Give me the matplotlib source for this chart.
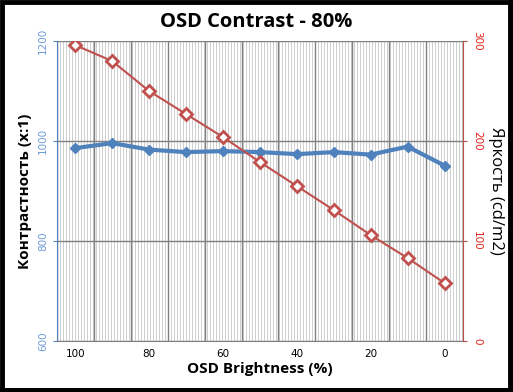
import numpy as np
import matplotlib
matplotlib.use("Agg")
import matplotlib.pyplot as plt
from matplotlib.patches import Rectangle

plt.rcParams['font.family'] = ['DejaVu Sans']

# данные
brightness = [100, 90, 80, 70, 60, 50, 40, 30, 20, 10, 0]
contrast = [986, 996, 983, 978, 980, 978, 974, 978, 973, 989, 951]
luminance = [296, 280, 250, 227, 204, 179, 155, 131, 106, 83, 58]

blue = '#4F81BD'
red = '#C0504D'
x = np.arange(len(brightness))

fig = plt.figure(figsize=(5.13, 3.92), dpi=100)
ax = fig.add_axes([0.111, 0.130, 0.7915, 0.765])
ax2 = ax.twinx()

# штриховка фона
ax.vlines(np.arange(-0.5, 10.5, 0.0813), 600, 1200, color='#c8c8c8', lw=0.6, zorder=0)

ax.set_xlim(-0.5, 10.5)
ax.set_ylim(600, 1200)
ax2.set_ylim(0, 300)

ax.set_xticks(x[::2])
ax.set_xticklabels([str(b) for b in brightness[::2]], fontsize=7.5)
ax.set_xticks(np.arange(-0.5, 11, 1), minor=True)
ax.grid(True, which='minor', axis='x', color='#808080', lw=1, zorder=1)
ax.set_yticks([600, 800, 1000, 1200])
ax.grid(True, which='major', axis='y', color='#808080', lw=1, zorder=1)
ax.tick_params(axis='x', which='both', length=0, pad=6)
ax.tick_params(axis='y', colors=blue, labelsize=7.5, length=3, labelcolor='#6d9bd8')
for t in ax.get_yticklabels():
    t.set_rotation(90)
    t.set_va('center')

ax2.set_yticks([0, 100, 200, 300])
ax2.tick_params(axis='y', colors=red, labelsize=7.5, length=3, labelcolor='#e0201a')
for t in ax2.get_yticklabels():
    t.set_rotation(-90)
    t.set_va('center')

for s in ['top']:
    ax.spines[s].set_visible(False)
    ax2.spines[s].set_visible(False)
ax.spines['left'].set_color(blue)
ax2.spines['left'].set_visible(False)
ax2.spines['right'].set_color(red)
ax.spines['right'].set_visible(False)
ax.spines['bottom'].set_color('#808080')
ax2.spines['bottom'].set_visible(False)

ax.plot(x, contrast, color=blue, lw=3, marker='D', ms=5.5, zorder=3)
ax2.plot(x, luminance, color=red, lw=1.5, marker='D', ms=6.5, mfc='white',
         mec=red, mew=2, zorder=3)

fig.text(0.5, 0.944, 'OSD Contrast - 80%', ha='center', va='center',
         fontsize=14.5, fontweight='bold', family=['Open Sans', 'DejaVu Sans'])
ax.set_xlabel('OSD Brightness (%)', fontsize=11, fontweight='bold',
              family=['Open Sans', 'DejaVu Sans'], labelpad=2)
ax.set_ylabel('Контрастность (x:1)', fontsize=11, fontweight='bold',
              family=['Open Sans', 'DejaVu Sans'], labelpad=4)
ax2.set_ylabel('Яркость (cd/m2)', fontsize=12,
               family=['Open Sans', 'DejaVu Sans'], rotation=-90, labelpad=16)

# рамка с тенью
fig.patches.append(Rectangle((0.003, 0.006), 0.991, 0.99, transform=fig.transFigure,
                             fill=False, ec='black', lw=3.5))
fig.patches.append(Rectangle((0.0, 0.0), 1.0, 0.011, transform=fig.transFigure,
                             fc='black', ec='none'))
fig.patches.append(Rectangle((0.992, 0.0), 0.008, 1.0, transform=fig.transFigure,
                             fc='black', ec='none'))

fig.savefig('out.png', dpi=100)
